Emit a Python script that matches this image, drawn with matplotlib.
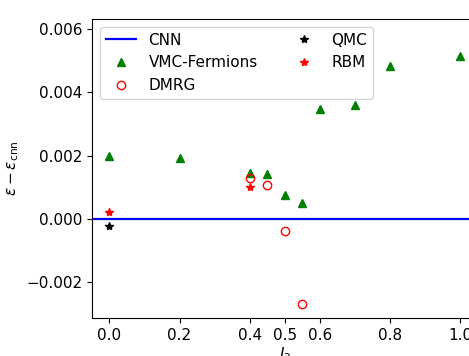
import matplotlib
matplotlib.use("Agg")
import matplotlib.pyplot as plt

# data
j2_vmc = [0.0, 0.2, 0.4, 0.45, 0.5, 0.55, 0.6, 0.7, 0.8, 1.0]
de_vmc = [0.0020, 0.00193, 0.00144, 0.00141, 0.00076, 0.00050, 0.00347, 0.00359, 0.00484, 0.00514]

j2_dmrg = [0.4, 0.45, 0.5, 0.55]
de_dmrg = [0.00130, 0.00106, -0.00038, -0.00269]

j2_qmc = [0.0]
de_qmc = [-0.00022]

j2_rbm = [0.0, 0.4]
de_rbm = [0.00021, 0.00101]

plt.rcParams['font.size'] = 11

fig = plt.figure(figsize=(4.69, 3.56), dpi=100)
ax = fig.add_axes([0.196, 0.107, 0.822, 0.84])

ax.axhline(0.0, color='b', lw=1.6, label='CNN')
ax.plot(j2_vmc, de_vmc, '^', color='green', ms=6, label='VMC-Fermions')
ax.plot(j2_dmrg, de_dmrg, 'o', mfc='none', mec='r', ms=6, label='DMRG')
ax.plot(j2_qmc, de_qmc, '*', color='k', ms=6, label='QMC')
ax.plot(j2_rbm, de_rbm, '*', color='r', ms=6, label='RBM')

ax.set_xlim(-0.05, 1.05)
ax.set_ylim(-0.00313, 0.00632)
ax.set_xticks([0.0, 0.2, 0.4, 0.5, 0.6, 0.8, 1.0])
ax.set_yticks([-0.002, 0.0, 0.002, 0.004, 0.006])
ax.set_xlabel(r'$J_2$', labelpad=2)
ax.set_ylabel(r'$\epsilon - \epsilon_{\rm cnn}$')
ax.legend(loc='upper left', ncol=2)

plt.savefig('out.png', dpi=100)
